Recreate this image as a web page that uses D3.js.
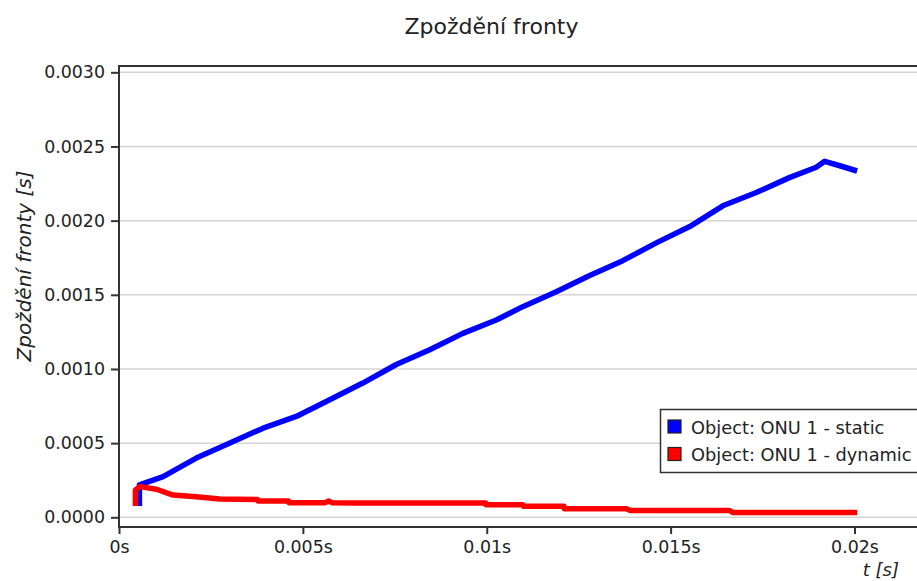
<!DOCTYPE html>
<html>
<head>
<meta charset="utf-8">
<script src="https://cdn.jsdelivr.net/npm/d3@7"></script>
<style>
  body { margin: 0; background: #fff; }
  svg text { font-family: "DejaVu Sans", sans-serif; fill: #222; }
</style>
</head>
<body>
<div id="host"><svg></svg></div>
<script>
const WIDTH = 917;
const HEIGHT = 581;

const TITLE = "Zpoždění fronty";
const Y_TITLE = "Zpoždění fronty [s]";
const X_TITLE = "t [s]";

const X_TICKS = [0, 0.005, 0.01, 0.015, 0.02];
const X_TICK_LABELS = ["0s", "0.005s", "0.01s", "0.015s", "0.02s"];
const Y_TICKS = [0, 0.0005, 0.001, 0.0015, 0.002, 0.0025, 0.003];
const Y_TICK_LABELS = ["0.0000", "0.0005", "0.0010", "0.0015", "0.0020", "0.0025", "0.0030"];

const SERIES_NAMES = ["Object: ONU 1 - static", "Object: ONU 1 - dynamic"];
const SERIES_COLORS = ["#0000ff", "#ff0000"];

// static (blue)
const STATIC_T = [0.000555, 0.000555, 0.0012, 0.0021, 0.003, 0.00392, 0.00482, 0.00573,
  0.00663, 0.00754, 0.00845, 0.00935, 0.01026, 0.01098, 0.01189, 0.0128, 0.0137,
  0.01461, 0.01552, 0.01642, 0.01733, 0.01823, 0.01896, 0.01919, 0.0196, 0.02];
const STATIC_V = [0.000095, 0.000218, 0.000274, 0.000399, 0.0005, 0.000601, 0.00068, 0.000793,
  0.000905, 0.00103, 0.00113, 0.00124, 0.00133, 0.00142, 0.00152, 0.00163, 0.00173,
  0.00185, 0.00196, 0.0021, 0.00219, 0.00229, 0.00236, 0.0024, 0.00237, 0.00234];

// dynamic (red)
const DYNAMIC_T = [0.000446, 0.000446, 0.00057, 0.00102, 0.00147, 0.0021, 0.00274, 0.00377,
  0.00378, 0.00461, 0.00462, 0.00561, 0.0057, 0.0058, 0.00633, 0.00997, 0.00998, 0.01098,
  0.011, 0.0121, 0.01211, 0.0138, 0.0139, 0.0166, 0.0167, 0.02];
const DYNAMIC_V = [0.000095, 0.000184, 0.000207, 0.000189, 0.00015, 0.000139, 0.000124, 0.00012,
  0.00011, 0.00011, 0.0000986, 0.0000986, 0.00011, 0.0000986, 0.000097, 0.000097, 0.000085, 0.000085,
  0.000074, 0.000074, 0.000057, 0.000057, 0.000046, 0.000046, 0.000032, 0.000032];

const PLOT_LEFT = 119;
const PLOT_RIGHT = 917;
const PLOT_TOP = 66;
const PLOT_BOTTOM = 527;

function draw() {
  const svg = d3.select("#host svg").attr("width", WIDTH).attr("height", HEIGHT);

  const x = d3.scaleLinear().domain([0, 0.0217]).range([PLOT_LEFT, PLOT_RIGHT]);
  const y = d3.scaleLinear().domain([0, 0.003]).range([517.3, 72.3]);

  // grid
  svg.append("g")
    .selectAll("line")
    .data(Y_TICKS)
    .join("line")
    .attr("x1", PLOT_LEFT)
    .attr("x2", PLOT_RIGHT)
    .attr("y1", (d) => y(d))
    .attr("y2", (d) => y(d))
    .attr("stroke", "#d4d4d4")
    .attr("stroke-width", 1.5);

  // frame
  svg.append("path")
    .attr("d", `M${PLOT_RIGHT},${PLOT_TOP}H${PLOT_LEFT}V${PLOT_BOTTOM}H${PLOT_RIGHT}`)
    .attr("fill", "none")
    .attr("stroke", "#333")
    .attr("stroke-width", 2);

  // axes
  const yAxis = svg.append("g")
    .attr("transform", `translate(${PLOT_LEFT},0)`)
    .call(d3.axisLeft(y).tickValues(Y_TICKS)
      .tickFormat((d, i) => Y_TICK_LABELS[i]).tickSize(8).tickPadding(6));
  const xAxis = svg.append("g")
    .attr("transform", `translate(0,${PLOT_BOTTOM})`)
    .call(d3.axisBottom(x).tickValues(X_TICKS)
      .tickFormat((d, i) => X_TICK_LABELS[i]).tickSize(7).tickPadding(7));
  for (const ax of [xAxis, yAxis]) {
    ax.select(".domain").remove();
    ax.selectAll(".tick line").attr("stroke", "#333").attr("stroke-width", 2);
    ax.selectAll(".tick text")
      .attr("font-family", "DejaVu Sans")
      .attr("font-size", 17.4)
      .attr("fill", "#222");
  }

  // series
  const line = d3.line().x((d) => x(d[0])).y((d) => y(d[1]));
  const series = [
    d3.zip(STATIC_T, STATIC_V),
    d3.zip(DYNAMIC_T, DYNAMIC_V),
  ];
  svg.append("g")
    .selectAll("path")
    .data(series)
    .join("path")
    .attr("d", line)
    .attr("fill", "none")
    .attr("stroke", (d, i) => SERIES_COLORS[i])
    .attr("stroke-width", 5.5)
    .attr("stroke-linejoin", "round")
    .attr("stroke-linecap", "square");

  // titles
  svg.append("text")
    .attr("x", 491.5)
    .attr("y", 34)
    .attr("text-anchor", "middle")
    .attr("font-size", 22)
    .text(TITLE);

  svg.append("text")
    .attr("transform", "translate(31,266) rotate(-90)")
    .attr("text-anchor", "middle")
    .attr("font-size", 20)
    .attr("font-style", "italic")
    .text(Y_TITLE);

  svg.append("text")
    .attr("x", 899)
    .attr("y", 576)
    .attr("text-anchor", "end")
    .attr("font-size", 18)
    .attr("font-style", "italic")
    .text(X_TITLE);

  // legend
  const legend = svg.append("g");
  legend.append("rect")
    .attr("x", 660.5)
    .attr("y", 409.5)
    .attr("width", 270)
    .attr("height", 63)
    .attr("fill", "#fff")
    .attr("stroke", "#333")
    .attr("stroke-width", 1.5);
  const items = legend.selectAll("g")
    .data(SERIES_NAMES)
    .join("g")
    .attr("transform", (d, i) => `translate(668,${420 + i * 27.5})`);
  items.append("rect")
    .attr("width", 13)
    .attr("height", 13)
    .attr("fill", (d, i) => SERIES_COLORS[i])
    .attr("stroke", "#222")
    .attr("stroke-width", 1.2);
  items.append("text")
    .attr("x", 23)
    .attr("y", 13.5)
    .attr("font-size", 17.8)
    .text((d) => d);
}

draw();
</script>
</body>
</html>
